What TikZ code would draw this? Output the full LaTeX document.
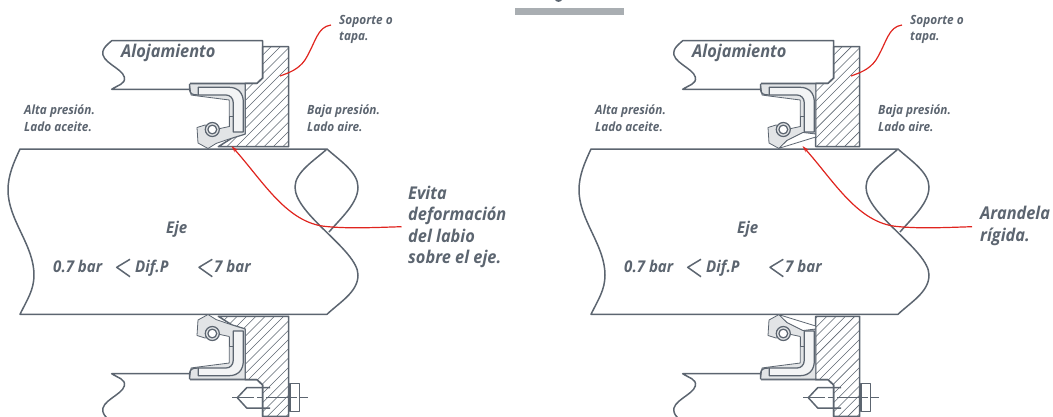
\documentclass[tikz,border=0pt]{standalone}
\usepackage{fontspec}
\setmainfont{Open Sans}[FakeStretch=0.93]
\usetikzlibrary{arrows.meta}
\definecolor{ink}{HTML}{5C6570}
\definecolor{sealgray}{HTML}{E2E4E6}
\definecolor{redline}{HTML}{E0241E}
\definecolor{barcol}{HTML}{A9AEB2}
\tikzset{
  ln/.style={draw=ink,line width=1.5pt,line join=round},
  seal ln/.style={draw=ink,line width=1.25pt,line join=round},
  thin ln/.style={draw=ink,line width=0.8pt,line join=round},
  hatchln/.style={draw=ink,line width=0.55pt},
  redc/.style={draw=redline,line width=1.2pt},
  lblbig/.style={inner sep=0pt,anchor=base west,text=ink,font=\bfseries\itshape\fontsize{17.6}{21}\selectfont},
  lblmid/.style={inner sep=0pt,anchor=base west,text=ink,font=\bfseries\itshape\fontsize{16.2}{18}\selectfont},
  lblsm/.style={inner sep=0pt,anchor=base west,text=ink,font=\bfseries\itshape\fontsize{12.7}{14}\selectfont},
}
\newcommand{\halfassembly}[4]{%
  \draw[ln,fill=white] (190,89.3) -- (111.7,89.3) .. controls (118,85) and (126,84) .. (124.3,77)
     .. controls (122,68) and (100,62) .. (103,51) .. controls (104,47) and (108,44) .. (111.7,40.7)
     -- (262.7,40.7) -- (262.7,78) -- (257,83.3) -- (190,83.3);
  \begin{scope}
    \clip #3;
    \foreach \s in {112,121.3,...,300}{
      \draw[hatchln] (\s,#1) -- ++(110,#2);
    }
  \end{scope}
  \draw[ln] #3;
  \draw[thin ln,fill=sealgray] #4;
  \draw[seal ln,fill=white!60!sealgray] (198.3,87.3) -- (229,87.3) .. controls (238,87.3) and (243.3,93) .. (243.3,102)
     -- (243.3,132) -- (233.3,132) -- (233.3,103) .. controls (233.3,98) and (230,95) .. (226,95) -- (198.3,95) -- cycle;
  \draw[seal ln] (189.6,84) -- (189.6,90) .. controls (190,93.5) and (192,95) .. (198.3,95);
  \draw[seal ln] (229.3,126.5) -- (229.3,116.7) -- (233.3,116.7);
  \draw[seal ln,fill=sealgray] (212.3,129.5) circle[radius=7];
  \draw[seal ln,fill=white] (212.3,129.5) circle[radius=4.4];
}
\begin{document}
\begin{tikzpicture}[x=1pt,y=-1pt]
\useasboundingbox (0,0) rectangle (1053,416);
\clip (0,0) rectangle (1053,416);
\fill[barcol] (515,7.5) rectangle (624.3,15);
\fill[ink] (555,0) .. controls (556,2.4) and (561,2.4) .. (562,0) -- cycle;
\newcommand{\shaft}{%
  \draw[ln,fill=white] (327,149) -- (20,149) .. controls (14,162) and (8,175) .. (8,190)
    .. controls (8,220) and (34,245) .. (34,275) .. controls (34,290) and (27,300) .. (20,314.3) -- (327,314.3)
    .. controls (340,302) and (358,292) .. (358,275) .. controls (358,250) and (295,215) .. (295,187)
    .. controls (295,172) and (315,160) .. (327,149) .. controls (339,160) and (358,172) .. (358,187)
    .. controls (358,203) and (342,217) .. (329,232);
}
\newcommand{\bolt}{%
  \draw[ln] (290,383.3) rectangle (299.3,411.7);
  \draw[ln] (270,387.7) -- (246.7,387.7) -- (237.3,397.7) -- (246.7,408) -- (270,408);
  \draw[ink,line width=0.6pt,dash pattern=on 22pt off 3pt on 6pt off 3pt] (232,397.7) -- (307.7,397.7);
}
\begin{scope}
  \shaft
  \def\supL{(262.7,46.7) -- (288.7,46.7) -- (288.7,146.7) -- (218.3,146.7) -- (232,138) -- (245,134) -- (245,83.3) -- (257,83.3) -- (262.7,78) -- cycle}
  \def\sealL{(189.6,84) -- (245,84) -- (245,134) -- (232,138) -- (216,143.5) -- (208,148.5) -- (198,143) -- (197,127.5) -- (205,125) -- (220,128.5) -- (229.3,126.5) -- (229.3,100) -- (198,96) -- (191,95) -- cycle}
  \halfassembly{150}{-110}{\supL}{\sealL}
\end{scope}
\begin{scope}[shift={(0,463)},yscale=-1]
  \def\supL{(262.7,46.7) -- (288.7,46.7) -- (288.7,146.7) -- (218.3,146.7) -- (232,138) -- (245,134) -- (245,83.3) -- (257,83.3) -- (262.7,78) -- cycle}
  \def\sealL{(189.6,84) -- (245,84) -- (245,134) -- (232,138) -- (216,143.5) -- (208,148.5) -- (198,143) -- (197,127.5) -- (205,125) -- (220,128.5) -- (229.3,126.5) -- (229.3,100) -- (198,96) -- (191,95) -- cycle}
  \halfassembly{40}{110}{\supL}{\sealL}
\end{scope}
\bolt
\begin{scope}[shift={(571,0)}]
  \shaft
  \def\supR{(262.7,46.7) -- (288.7,46.7) -- (288.7,146.7) -- (244.7,146.7) -- (244.7,83.3) -- (257,83.3) -- (262.7,78) -- cycle}
  \def\sealR{(189.6,84) -- (244.7,84) -- (244.7,134) -- (232,132.5) -- (216,140.5) -- (208,148.5) -- (198,143) -- (197,127.5) -- (205,125) -- (220,128.5) -- (229.3,126.5) -- (229.3,100) -- (198,96) -- (191,95) -- cycle}
  \halfassembly{150}{-110}{\supR}{\sealR}
  \draw[thin ln,fill=white] (208,148.3) -- (244.7,137) -- (244.7,134) -- (232,132.5) -- (216,140.5) -- cycle;
\end{scope}
\begin{scope}[shift={(571,463)},yscale=-1]
  \def\supR{(262.7,46.7) -- (288.7,46.7) -- (288.7,146.7) -- (244.7,146.7) -- (244.7,83.3) -- (257,83.3) -- (262.7,78) -- cycle}
  \def\sealR{(189.6,84) -- (244.7,84) -- (244.7,134) -- (232,132.5) -- (216,140.5) -- (208,148.5) -- (198,143) -- (197,127.5) -- (205,125) -- (220,128.5) -- (229.3,126.5) -- (229.3,100) -- (198,96) -- (191,95) -- cycle}
  \halfassembly{40}{110}{\supR}{\sealR}
  \draw[thin ln,fill=white] (208,148.3) -- (244.7,137) -- (244.7,134) -- (232,132.5) -- (216,140.5) -- cycle;
\end{scope}
\begin{scope}[shift={(571,0)}]
  \bolt
\end{scope}
\node[lblbig] (alojL) at (121,57) {Alojamiento};
\node[lblsm] (sopL1) at (339,24) {Soporte o};
\node[lblsm] (sopL2) at (339,40) {tapa.};
\node[lblsm] (altaL1) at (24,114) {Alta presión.};
\node[lblsm] (altaL2) at (24,131) {Lado aceite.};
\node[lblsm] (bajaL1) at (307,114) {Baja presión.};
\node[lblsm] (bajaL2) at (307,131) {Lado aire.};
\node[lblmid] (ejeL) at (166,233) {Eje};
\node[lblmid] (p1L) at (53,272) {0.7 bar};
\node[lblmid] (p2L) at (135,272) {Dif.P};
\node[lblmid] (p3L) at (214,272) {7 bar};
\draw[ln] (130,259.3) -- (116.7,267.3) -- (130,276.7);
\draw[ln] (212.3,259.3) -- (199,267.3) -- (212.3,276.7);
\node[lblbig] (ev1) at (408,199.3) {Evita};
\node[lblbig] (ev2) at (408,220.5) {deformación};
\node[lblbig] (ev3) at (408,242) {del labio};
\node[lblbig] (ev4) at (408,263.5) {sobre el eje.};
\begin{scope}[shift={(571,0)}]
\node[lblbig] (alojR) at (121,57) {Alojamiento};
\node[lblsm] (sopR1) at (339,24) {Soporte o};
\node[lblsm] (sopR2) at (339,40) {tapa.};
\node[lblsm] (altaR1) at (24,114) {Alta presión.};
\node[lblsm] (altaR2) at (24,131) {Lado aceite.};
\node[lblsm] (bajaR1) at (307,114) {Baja presión.};
\node[lblsm] (bajaR2) at (307,131) {Lado aire.};
\node[lblmid] (ejeR) at (166,233) {Eje};
\node[lblmid] (p1R) at (53,272) {0.7 bar};
\node[lblmid] (p2R) at (135,272) {Dif.P};
\node[lblmid] (p3R) at (214,272) {7 bar};
\draw[ln] (130,259.3) -- (116.7,267.3) -- (130,276.7);
\draw[ln] (212.3,259.3) -- (199,267.3) -- (212.3,276.7);
\end{scope}
\node[lblbig] (ar1) at (980,219.3) {Arandela};
\node[lblbig] (ar2) at (980,241.7) {rígida.};
\coordinate (tS1) at (280,76);
\coordinate (tL1) at (231.5,146);
\coordinate (tS2) at (851,76);
\coordinate (tL2) at (802.5,146);
\draw[redc] ([xshift=-8pt,yshift=-1pt]sopL1.base west) .. controls +(-14,2) and (316,42) .. (305,60) .. controls (298,70) and (288,73) .. (tS1);
\draw[redc,-{Stealth[length=7pt,width=4pt]}] ([xshift=-6.5pt,yshift=15.3pt]ev3.base west) .. controls (375,227.5) and (345,229) .. (322,226)
   .. controls (285,220) and (262,180) .. (tL1);
\draw[redc] ([xshift=-8pt,yshift=-1pt]sopR1.base west) .. controls +(-14,2) and (887,42) .. (876,60) .. controls (869,70) and (859,73) .. (tS2);
\draw[redc,-{Stealth[length=7pt,width=4pt]}] ([xshift=-8pt,yshift=-7.4pt]ar1.base west) .. controls (946,227.5) and (916,229) .. (893,226)
   .. controls (856,220) and (833,180) .. (tL2);
\end{tikzpicture}
\end{document}
